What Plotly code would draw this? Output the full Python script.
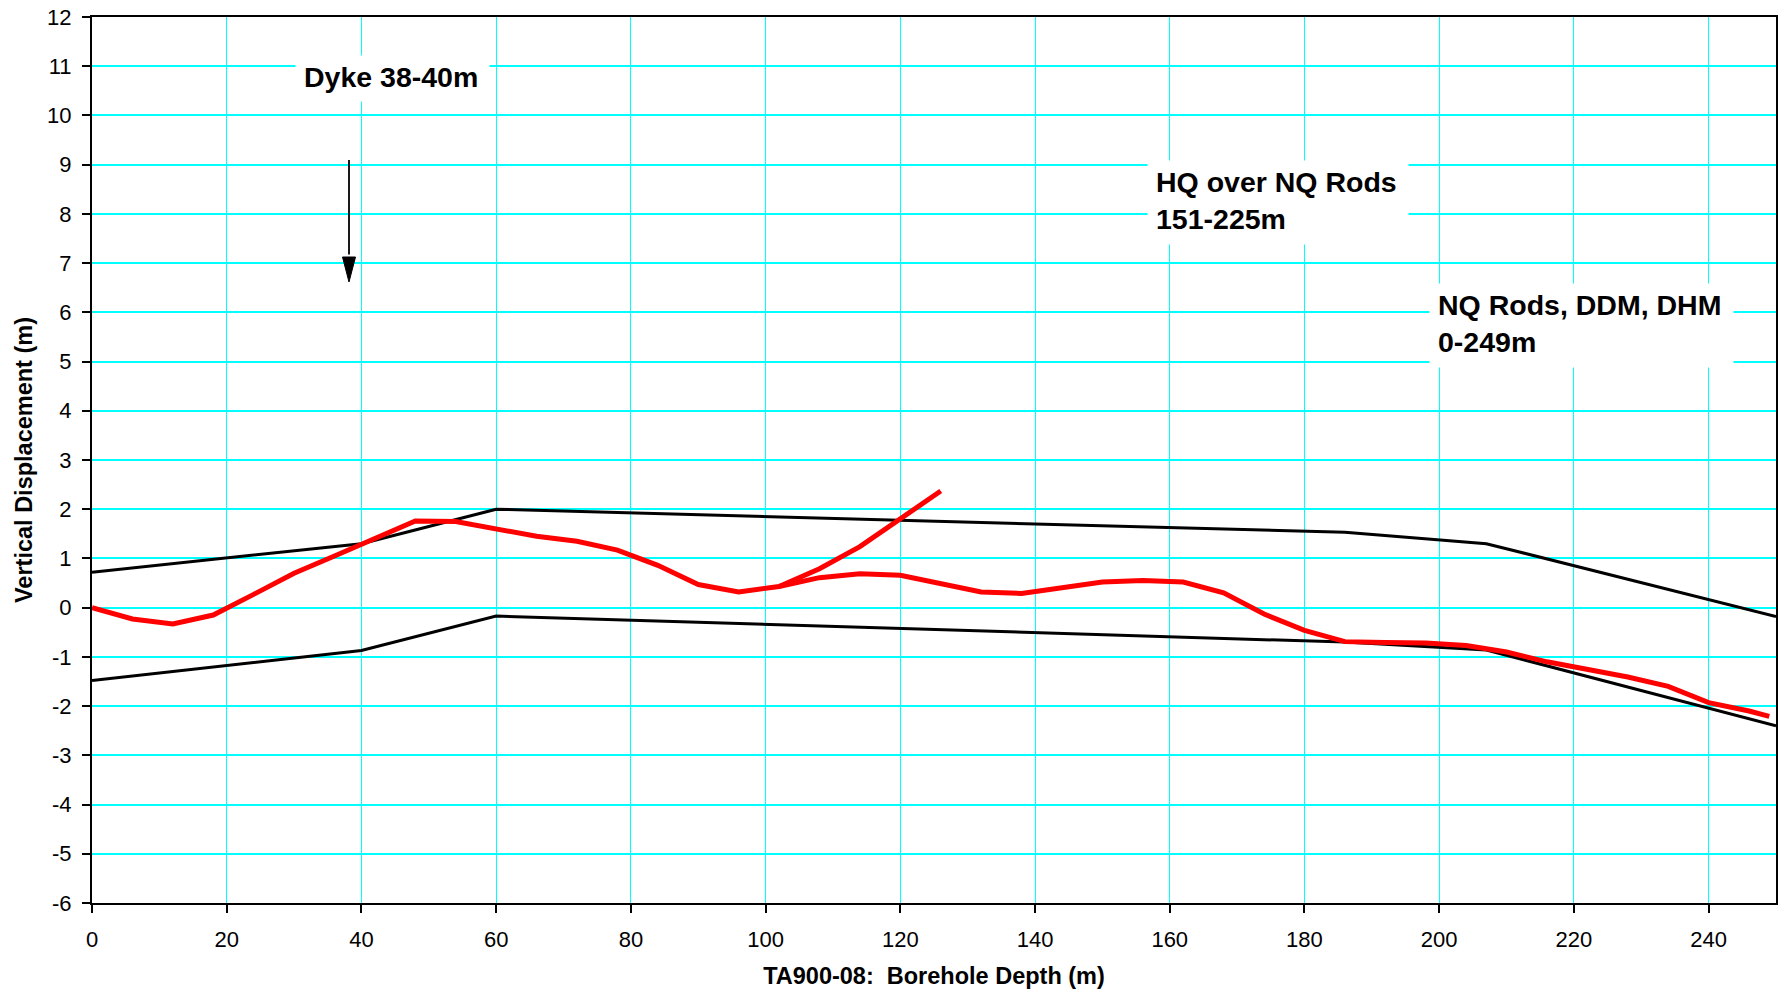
import plotly.graph_objects as go

# ---- data ----
red_depth = [0, 6, 12, 18, 24, 30, 36, 42, 48, 54, 60, 66, 72, 78, 84, 90, 96, 102,
             108, 114, 120, 126, 132, 138, 144, 150, 156, 162, 168, 174, 180, 186,
             192, 198, 204, 210, 216, 222, 228, 234, 240, 246, 249]
red_disp = [0.00, -0.23, -0.33, -0.15, 0.27, 0.70, 1.05, 1.40, 1.76, 1.75, 1.61, 1.45,
            1.35, 1.17, 0.86, 0.47, 0.32, 0.43, 0.61, 0.69, 0.66, 0.49, 0.32, 0.29,
            0.41, 0.52, 0.55, 0.52, 0.30, -0.13, -0.46, -0.69, -0.71, -0.72, -0.77,
            -0.90, -1.10, -1.26, -1.41, -1.60, -1.93, -2.10, -2.21]

branch_depth = [102, 108, 114, 120, 126]
branch_disp = [0.43, 0.79, 1.24, 1.81, 2.37]

env_depth = [0, 40, 60, 186, 207, 250]
env_upper = [0.72, 1.30, 2.00, 1.53, 1.30, -0.18]
env_lower = [-1.48, -0.87, -0.17, -0.70, -0.86, -2.40]

x_ticks = [0, 20, 40, 60, 80, 100, 120, 140, 160, 180, 200, 220, 240]
y_ticks = list(range(-6, 13))

W, H = 1787, 993
L, R, T, B = 92, 1776, 17, 903  # plot area pixels
XMIN, XMAX, YMIN, YMAX = 0, 250, -6, 12


def px2x(p):
    return XMIN + (p - L) / (R - L) * (XMAX - XMIN)


def py2y(p):
    return YMAX - (p - T) / (B - T) * (YMAX - YMIN)


FONT = "Liberation Sans, Arial, sans-serif"

fig = go.Figure()
fig.add_trace(go.Scatter(x=env_depth, y=env_upper, mode="lines",
                         line=dict(color="black", width=3), showlegend=False))
fig.add_trace(go.Scatter(x=env_depth, y=env_lower, mode="lines",
                         line=dict(color="black", width=3), showlegend=False))
fig.add_trace(go.Scatter(x=red_depth, y=red_disp, mode="lines",
                         line=dict(color="#FF0000", width=5), showlegend=False))
fig.add_trace(go.Scatter(x=branch_depth, y=branch_disp, mode="lines",
                         line=dict(color="#FF0000", width=5), showlegend=False))

# text boxes (white background covering the grid)
boxes = [
    # (left px, top px, width px, height px, text)
    (295, 55, 193, 45, "<b>Dyke 38-40m</b>"),
    (1147, 160, 260, 83, "<b>HQ over NQ Rods<br>151-225m</b>"),
    (1429, 283, 303, 83, "<b>NQ Rods, DDM, DHM<br>0-249m</b>"),
]
for (bl, bt, bw, bh, txt) in boxes:
    fig.add_annotation(x=px2x(bl), y=py2y(bt), xref="x", yref="y",
                       xanchor="left", yanchor="top", text=" ",
                       width=bw, height=bh, borderpad=0, bgcolor="white",
                       showarrow=False, font=dict(size=10))
    fig.add_annotation(x=px2x(bl + 8), y=py2y(bt + 4.5), xref="x", yref="y",
                       xanchor="left", yanchor="top", align="left", text=txt,
                       showarrow=False, borderpad=0,
                       font=dict(family=FONT, size=28.5, color="black"))

# arrow for dyke
ax_x = px2x(349)
tip_y = py2y(282)
base_y = py2y(257)
top_y = py2y(160)
half = (6.5) / (R - L) * (XMAX - XMIN)
fig.add_shape(type="line", x0=ax_x, x1=ax_x, y0=top_y, y1=base_y + 0.05,
              line=dict(color="black", width=1.8))
fig.add_shape(type="path",
              path=f"M {ax_x - half},{base_y} L {ax_x + half},{base_y} L {ax_x},{tip_y} Z",
              fillcolor="black", line=dict(color="black", width=1))

fig.update_layout(
    width=W, height=H,
    margin=dict(l=L, r=W - R, t=T, b=H - B, autoexpand=False),
    paper_bgcolor="white", plot_bgcolor="white",
    font=dict(family=FONT, color="black"),
    showlegend=False,
)
fig.update_xaxes(range=[XMIN, XMAX], tickvals=x_ticks, ticktext=[str(v) for v in x_ticks],
                 automargin=False,
                 showgrid=True, gridcolor="#00FFFF", gridwidth=1.2,
                 showline=True, linecolor="black", linewidth=2, mirror=True,
                 ticks="outside", ticklen=8, tickwidth=1.5, tickcolor="black",
                 tickfont=dict(size=22, family=FONT, color="black"),
                 ticklabelstandoff=8,
                 zeroline=False,
                 title=dict(text="<b>TA900-08:  Borehole Depth (m)</b>",
                            font=dict(size=23.5, family=FONT, color="black"),
                            standoff=16))
fig.update_yaxes(range=[YMIN, YMAX], tickvals=y_ticks, ticktext=[str(v) for v in y_ticks],
                 automargin=False,
                 showgrid=True, gridcolor="#00FFFF", gridwidth=2,
                 showline=True, linecolor="black", linewidth=2, mirror=True,
                 ticks="outside", ticklen=8, tickwidth=1.5, tickcolor="black",
                 tickfont=dict(size=22, family=FONT, color="black"),
                 ticklabelstandoff=6,
                 zeroline=False,
                 title=dict(text="<b>Vertical Displacement (m)</b>",
                            font=dict(size=23.5, family=FONT, color="black"),
                            standoff=8))

fig.write_html("out.html")
